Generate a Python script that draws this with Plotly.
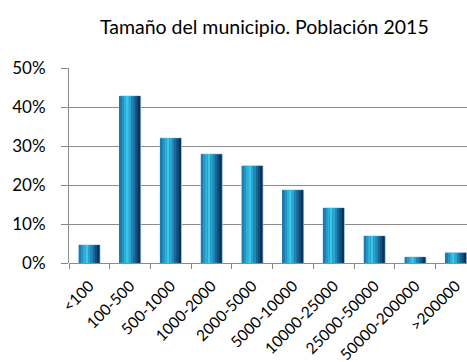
import plotly.graph_objects as go

categories = ["<100", "100-500", "500-1000", "1000-2000", "2000-5000", "5000-10000",
              "10000-25000", "25000-50000", "50000-200000", ">200000"]
values = [4.6, 42.8, 32.0, 27.9, 24.9, 18.7, 14.1, 6.9, 1.5, 2.6]

y_ticks = [0, 10, 20, 30, 40, 50]
y_tick_labels = ["0%", "10%", "20%", "30%", "40%", "50%"]

fig = go.Figure()

# base bar with light outline
fig.add_trace(go.Bar(x=categories, y=values, width=0.52,
                     marker=dict(color="#16507f", line=dict(color="#9cc3e6", width=1)),
                     hoverinfo="skip", showlegend=False))
# stripes to simulate cylindrical gradient
stripes = [
    (-0.25, 0.04, "#2178ab"),
    (-0.21, 0.05, "#2796c6"),
    (-0.16, 0.06, "#2cb0da"),
    (-0.10, 0.07, "#38c8ea"),
    (-0.03, 0.06, "#2aa8d2"),
    (0.03, 0.06, "#1f88b9"),
    (0.09, 0.05, "#176898"),
    (0.14, 0.05, "#114f7d"),
    (0.19, 0.06, "#0b3558"),
]
for off, w, c in stripes:
    fig.add_trace(go.Bar(x=categories, y=values, width=w, offset=off,
                         marker=dict(color=c, line=dict(width=0)),
                         hoverinfo="skip", showlegend=False))

fig.update_layout(
    width=467, height=362,
    barmode="overlay",
    paper_bgcolor="white", plot_bgcolor="white",
    margin=dict(l=69, r=0, t=68, b=99),
    font=dict(family="Lato, Carlito, Calibri, sans-serif", color="#000000"),
    title=dict(text="Tamaño del municipio. Población 2015", x=0.566, xanchor="center",
               y=0.925, yanchor="middle", font=dict(size=19.5)),
    xaxis=dict(type="category", range=[-0.5, 9.27], tickangle=-45, automargin=False,
               tickfont=dict(size=15.5), ticks="outside", tickson="boundaries",
               ticklen=5, tickcolor="#868686", showline=False, showgrid=False,
               ticklabelstandoff=10),
    yaxis=dict(range=[0, 50], tickvals=y_ticks, ticktext=y_tick_labels, automargin=False,
               tickfont=dict(size=17), showgrid=True, gridcolor="#8c8c8c", gridwidth=1,
               ticks="outside", ticklen=7, tickcolor="#868686",
               showline=True, linecolor="#8c8c8c", linewidth=1,
               zeroline=True, zerolinecolor="#8c8c8c", zerolinewidth=1,
               ticklabelstandoff=12),
)

fig.write_html("out.html", config={"displayModeBar": False},
               post_script="document.body.style.margin='0';document.body.style.overflow='hidden';")
